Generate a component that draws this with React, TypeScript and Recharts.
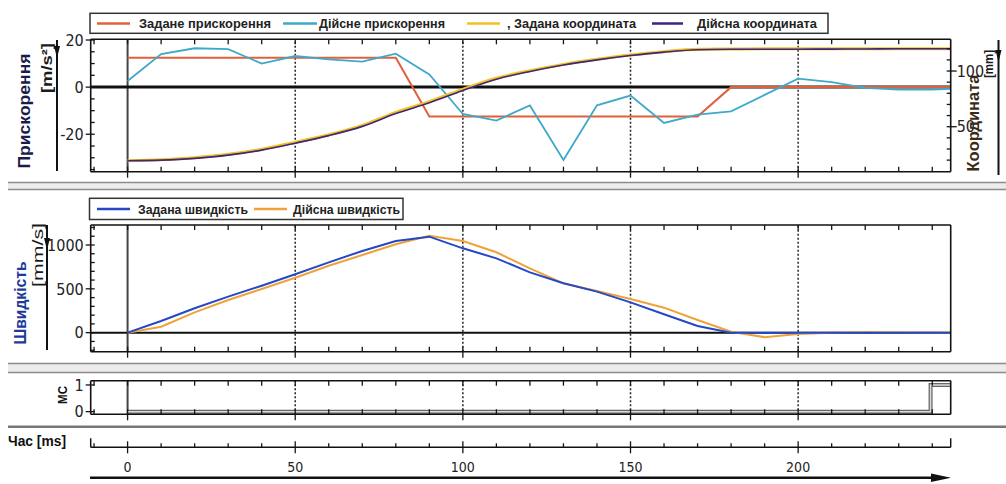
import { LineChart, Line, XAxis, YAxis, ReferenceLine } from 'recharts'

// time grid of the recording, ms
const timeMs = [0, 10, 20, 30, 40, 50, 60, 70, 80, 90, 100, 110, 120, 130, 140, 150, 160, 170, 180, 190, 200, 210, 220, 230, 240, 245.5]

// acceleration, m/s^2
const accelSet = [12.5, 12.5, 12.5, 12.5, 12.5, 12.5, 12.5, 12.5, 12.5, -12.5, -12.5, -12.5, -12.5, -12.5, -12.5, -12.5, -12.5, -12.5, 0, 0, 0, 0, 0, 0, 0, 0]
const accelActual = [2.6, 14, 16.5, 16.1, 10, 13.2, 11.8, 10.8, 14.2, 5.4, -11.4, -14.2, -7.8, -30.9, -7.7, -3.6, -15.2, -11.7, -10.3, -3.3, 3.6, 2.1, -0.3, -1, -1, -0.7]

// coordinate, mm
const coordSet = [19.5, 20.4, 22.2, 25.2, 29.7, 36, 42.8, 51.2, 62.9, 72.5, 83.6, 93.5, 100.3, 106, 110.5, 114.4, 117.4, 119.5, 119.8, 120, 120, 120, 120, 120, 120, 120]
const coordActual = [19.4, 20, 21.6, 24.5, 29, 35.2, 42, 50.3, 61.8, 71.5, 82.6, 92.7, 99.6, 105.4, 110, 113.9, 117, 119.1, 119.5, 119.6, 119.6, 119.7, 119.8, 120, 120, 120]

// speed, mm/s
const speedSet = [0, 133, 278, 411, 536, 666, 802, 932, 1046, 1095, 962, 848, 688, 563, 468, 346, 210, 76, 0, 0, 0, 0, 0, 0, 0, 0]
const speedActual = [0, 68, 232, 373, 498, 627, 764, 886, 1008, 1106, 1046, 917, 734, 563, 475, 384, 285, 145, 11, -52, -15, 0, 4, 2, 0, 0]

// MC signal
const mcTime = [0, 239.5, 245.5]
const mcState = [0, 1, 1]

const accelNames = ['Задане прискорення', 'Дійсне прискорення', ', Задана координата', 'Дійсна координата']
const accelColors = ['#e0603c', '#3fa9c9', '#f2c21f', '#3d2580']
const speedNames = ['Задана швидкість', 'Дійсна швидкість']
const speedColors = ['#2348c8', '#f0a23a']

const X_DOMAIN: [number, number] = [-11, 245.5]
const xTicks = [-10, 0, 10, 20, 30, 40, 50, 60, 70, 80, 90, 100, 110, 120, 130, 140, 150, 160, 170, 180, 190, 200, 210, 220, 230, 240]
const timeTicks = [-11, ...xTicks, 245.5]
const gridLines = [50, 100, 150, 200]
const accelTicks = [-35, -30, -25, -20, -15, -10, -5, 0, 5, 10, 15, 20]
const accelLabels = [-20, 0, 20]
const coordTicks = [20, 30, 40, 50, 60, 70, 80, 90, 100, 110, 120]
const coordLabels = [50, 100]
const speedTicks = [-200, -100, 0, 100, 200, 300, 400, 500, 600, 700, 800, 900, 1000, 1100, 1200]
const speedLabels = [0, 500, 1000]
const mcTicks = [0, 1]

const accelRows = timeMs.map((t, i) => ({
  t,
  accelSet: accelSet[i],
  accelActual: accelActual[i],
  coordSet: coordSet[i],
  coordActual: coordActual[i],
}))
const speedRows = timeMs.map((t, i) => ({ t, speedSet: speedSet[i], speedActual: speedActual[i] }))
const mcRows = mcTime.map((t, i) => ({ t, mc: mcState[i] }))

const NARROW = "'Liberation Sans Narrow', 'DejaVu Sans Condensed', 'Liberation Sans', sans-serif"
const SANS = "'Liberation Sans', Arial, sans-serif"
const AXIS = { stroke: '#111', strokeWidth: 1.6 }
const INK = '#151515'

function TopTick(props: any) {
  const { x, y } = props
  return <line x1={x} x2={x} y1={y} y2={y + 5} stroke={INK} strokeWidth={1.3} />
}

function BottomTick(props: any) {
  const { x, y, payload } = props
  const major = payload.value % 50 === 0
  return <line x1={x} x2={x} y1={y - 5} y2={major ? y + 6 : y} stroke={INK} strokeWidth={1.3} />
}

const leftTick = (labels: number[]) => (props: any) => {
  const { x, y, payload } = props
  const major = labels.includes(payload.value)
  return (
    <g>
      <line x1={major ? x - 5 : x} x2={x + 4} y1={y} y2={y} stroke={INK} strokeWidth={1.3} />
      {major && (
        <text x={x - 7} y={y} dy="0.36em" textAnchor="end" fontSize={16} fontFamily={NARROW} fill="#222">
          {payload.value}
        </text>
      )}
    </g>
  )
}

const rightTick = (labels: number[]) => (props: any) => {
  const { x, y, payload } = props
  const major = labels.includes(payload.value)
  return (
    <g>
      <line x1={x - 4} x2={major ? x + 6 : x} y1={y} y2={y} stroke={INK} strokeWidth={1.3} />
      {major && (
        <text x={x + 6} y={y} dy="0.36em" textAnchor="start" fontSize={16} fontFamily={NARROW} fill="#222">
          {payload.value}
        </text>
      )}
    </g>
  )
}

function TimeTick(props: any) {
  const { x, y, payload } = props
  const v = payload.value
  if (v === X_DOMAIN[0] || v === X_DOMAIN[1]) {
    return <line x1={x} x2={x} y1={y - 9} y2={y} stroke={INK} strokeWidth={1.5} />
  }
  const major = v % 50 === 0
  return (
    <g>
      <line x1={x} x2={x} y1={major ? y - 6 : y - 4} y2={major ? y + 6 : y} stroke={INK} strokeWidth={1.3} />
      {major && v >= 0 && (
        <text x={x} y={y + 20} dy="0.36em" textAnchor="middle" fontSize={14} fontFamily={NARROW} fill="#222">
          {v}
        </text>
      )}
    </g>
  )
}

function gridRefs(yId: string) {
  return [
    <ReferenceLine key="zero-x" xAxisId="b" yAxisId={yId} x={0} stroke="#444" strokeWidth={2} />,
    ...gridLines.map((v) => (
      <ReferenceLine key={'g' + v} xAxisId="b" yAxisId={yId} x={v} stroke="#222" strokeWidth={1.5} strokeDasharray="2 2" />
    )),
  ]
}

function edgeAxes(topH: number, bottomH: number) {
  return [
    <XAxis key="xt" xAxisId="t" orientation="top" dataKey="t" type="number" domain={X_DOMAIN} allowDataOverflow ticks={xTicks} interval={0} height={topH} tickSize={0} tickMargin={0} tickLine={false} axisLine={AXIS} tick={TopTick} />,
    <XAxis key="xb" xAxisId="b" orientation="bottom" dataKey="t" type="number" domain={X_DOMAIN} allowDataOverflow ticks={xTicks} interval={0} height={bottomH} tickSize={0} tickMargin={0} tickLine={false} axisLine={AXIS} tick={BottomTick} />,
  ]
}

const legendTopLayout = [
  [97, 130, 139, 132],
  [283, 317, 319, 126],
  [467, 500, 507, 129],
  [652, 683, 697, 120],
]
const legendSpeedLayout = [
  [97, 130, 138, 110],
  [254, 287, 293, 107],
]

function Legend({ names, colors, layout, box, cy }: { names: string[]; colors: string[]; layout: number[][]; box: number[]; cy: number }) {
  return (
    <g>
      <rect x={box[0]} y={box[1]} width={box[2] - box[0]} height={box[3] - box[1]} fill="#fff" stroke="#333" strokeWidth={1.5} />
      {names.map((n, i) => (
        <g key={n}>
          <line x1={layout[i][0]} x2={layout[i][1]} y1={cy} y2={cy} stroke={colors[i]} strokeWidth={2.5} />
          <text x={layout[i][2]} y={cy} dy="0.36em" fontSize={13} fontWeight="bold" fontFamily={SANS} fill="#222" textLength={layout[i][3]} lengthAdjust="spacingAndGlyphs">
            {n}
          </text>
        </g>
      ))}
    </g>
  )
}

function VLabel({ x, y, text, len, size, color, bold }: { x: number; y: number; text: string; len: number; size: number; color: string; bold?: boolean }) {
  return (
    <text x={x} y={y} transform={`rotate(-90 ${x} ${y})`} textAnchor="middle" dy="0.36em" fontSize={size} fontWeight={bold ? 'bold' : 'normal'} fontFamily={SANS} fill={color} textLength={len} lengthAdjust="spacingAndGlyphs">
      {text}
    </text>
  )
}

function UnitBar({ x, y1, y2, ay }: { x: number; y1: number; y2: number; ay: number }) {
  return (
    <g>
      <line x1={x} x2={x} y1={y1} y2={y2} stroke="#111" strokeWidth={2} />
      <polygon points={`${x - 3},${ay} ${x + 3},${ay} ${x},${ay + 12}`} fill="#111" />
    </g>
  )
}

function Separator({ y1, y2 }: { y1: number; y2: number }) {
  return (
    <g>
      <rect x={8} y={y1} width={998} height={y2 - y1} fill="#ececec" />
      <line x1={8} x2={1006} y1={y1} y2={y1} stroke="#8c8c8c" strokeWidth={1.6} />
      <line x1={8} x2={1006} y1={y2} y2={y2} stroke="#8c8c8c" strokeWidth={1.6} />
    </g>
  )
}

export default function App() {
  return (
    <div style={{ position: 'absolute', left: 0, top: 0, width: 1006, height: 484, background: '#fff', overflow: 'hidden', fontFamily: SANS }}>
      <div style={{ position: 'absolute', left: 0, top: 0 }}>
        <LineChart width={1006} height={190} data={accelRows} margin={{ top: 38, right: 0, bottom: 0, left: 0 }}>
          {edgeAxes(1.3, 18.3)}
          <YAxis yAxisId="acc" orientation="left" width={90.7} type="number" domain={[-35.9, 20.3]} allowDataOverflow ticks={accelTicks} interval={0} tickSize={0} tickMargin={0} tickLine={false} axisLine={AXIS} tick={leftTick(accelLabels)} />
          <YAxis yAxisId="coord" orientation="right" width={55.3} type="number" domain={[9.6, 128.5]} allowDataOverflow ticks={coordTicks} interval={0} tickSize={0} tickMargin={0} tickLine={false} axisLine={AXIS} tick={rightTick(coordLabels)} />
          {gridRefs('acc')}
          <ReferenceLine xAxisId="b" yAxisId="acc" y={0} stroke="#111" strokeWidth={3} />
          <Line xAxisId="b" yAxisId="acc" dataKey="accelSet" name={accelNames[0]} stroke={accelColors[0]} strokeWidth={2} dot={false} type="linear" isAnimationActive={false} />
          <Line xAxisId="b" yAxisId="acc" dataKey="accelActual" name={accelNames[1]} stroke={accelColors[1]} strokeWidth={1.8} dot={false} type="linear" isAnimationActive={false} />
          <Line xAxisId="b" yAxisId="coord" dataKey="coordSet" name={accelNames[2]} stroke={accelColors[2]} strokeWidth={3} dot={false} type="monotone" isAnimationActive={false} />
          <Line xAxisId="b" yAxisId="coord" dataKey="coordActual" name={accelNames[3]} stroke={accelColors[3]} strokeWidth={1.6} dot={false} type="monotone" isAnimationActive={false} />
        </LineChart>
      </div>

      <div style={{ position: 'absolute', left: 0, top: 190 }}>
        <LineChart width={1006} height={175} data={speedRows} margin={{ top: 34, right: 0, bottom: 0, left: 0 }}>
          {edgeAxes(1, 13.3)}
          <YAxis yAxisId="spd" orientation="left" width={90.7} type="number" domain={[-217, 1228]} allowDataOverflow ticks={speedTicks} interval={0} tickSize={0} tickMargin={0} tickLine={false} axisLine={AXIS} tick={leftTick(speedLabels)} />
          <YAxis yAxisId="edge" orientation="right" width={55.3} type="number" domain={[0, 1]} tick={false} tickLine={false} axisLine={AXIS} />
          {gridRefs('spd')}
          <ReferenceLine xAxisId="b" yAxisId="spd" y={0} stroke="#111" strokeWidth={2} />
          <Line xAxisId="b" yAxisId="spd" dataKey="speedActual" name={speedNames[1]} stroke={speedColors[1]} strokeWidth={2} dot={false} type="linear" isAnimationActive={false} />
          <Line xAxisId="b" yAxisId="spd" dataKey="speedSet" name={speedNames[0]} stroke={speedColors[0]} strokeWidth={2} dot={false} type="linear" isAnimationActive={false} />
        </LineChart>
      </div>

      <div style={{ position: 'absolute', left: 0, top: 370 }}>
        <LineChart width={1006} height={52} data={mcRows} margin={{ top: 9.7, right: 0, bottom: 0, left: 0 }}>
          {edgeAxes(1, 7.7)}
          <YAxis yAxisId="mc" orientation="left" width={90.7} type="number" domain={[-0.1, 1.16]} allowDataOverflow ticks={mcTicks} interval={0} tickSize={0} tickMargin={0} tickLine={false} axisLine={AXIS} tick={leftTick(mcTicks)} />
          <YAxis yAxisId="edge" orientation="right" width={55.3} type="number" domain={[0, 1]} tick={false} tickLine={false} axisLine={AXIS} />
          {gridRefs('mc')}
          <Line xAxisId="b" yAxisId="mc" dataKey="mc" name="МС" stroke="#666" strokeWidth={4} dot={false} type="stepAfter" isAnimationActive={false} />
          <Line xAxisId="b" yAxisId="mc" dataKey="mc" name="МС" stroke="#dcdcdc" strokeWidth={1.5} dot={false} type="stepAfter" isAnimationActive={false} legendType="none" />
        </LineChart>
      </div>

      <div style={{ position: 'absolute', left: 0, top: 428 }}>
        <LineChart width={1006} height={56} data={mcRows} margin={{ top: 0, right: 55.3, bottom: 0, left: 90.7 }}>
          <XAxis dataKey="t" type="number" domain={X_DOMAIN} allowDataOverflow ticks={timeTicks} interval={0} height={36.7} tickSize={0} tickMargin={0} tickLine={false} axisLine={{ stroke: '#111', strokeWidth: 1.4 }} tick={TimeTick} />
          <YAxis hide width={0} />
        </LineChart>
      </div>

      <svg width={1006} height={484} style={{ position: 'absolute', left: 0, top: 0, pointerEvents: 'none' }}>
        <Separator y1={182.5} y2={189.5} />
        <Separator y1={363.5} y2={372.5} />
        <line x1={8} x2={1006} y1={426.7} y2={426.7} stroke="#777" strokeWidth={2.5} />

        <Legend names={accelNames} colors={accelColors} layout={legendTopLayout} box={[90, 13.3, 828, 33.3]} cy={23.5} />
        <Legend names={speedNames} colors={speedColors} layout={legendSpeedLayout} box={[89.5, 198.3, 403, 219.5]} cy={209} />

        <VLabel x={24} y={111} text="Прискорення" len={115} size={16} color="#1b1b4b" bold />
        <VLabel x={47} y={68} text="[m/s²]" len={50} size={14} color="#1b1b1b" bold />
        <UnitBar x={57} y1={40} y2={171} ay={46} />

        <VLabel x={973} y={123} text="Координата" len={97} size={16} color="#3b2a14" bold />
        <VLabel x={988} y={64} text="[mm]" len={28} size={13} color="#1b1b1b" bold />
        <UnitBar x={998.5} y1={40} y2={175} ay={50} />

        <VLabel x={20} y={303} text="Швидкість" len={83} size={16} color="#1d3a9a" bold />
        <VLabel x={38} y={255} text="[mm/s]" len={64} size={14} color="#1b1b1b" />
        <UnitBar x={47} y1={225} y2={350} ay={238} />

        <VLabel x={62} y={395} text="МС" len={18} size={13} color="#111" bold />

        <text x={8} y={441} dy="0.36em" fontSize={14} fontWeight="bold" fontFamily={SANS} fill="#111" textLength={58} lengthAdjust="spacingAndGlyphs">
          Час [ms]
        </text>

        <line x1={90} x2={936} y1={477.7} y2={477.7} stroke="#111" strokeWidth={2.5} />
        <polygon points="931,473.5 951,477.7 931,481.9" fill="#111" />
      </svg>
    </div>
  )
}
